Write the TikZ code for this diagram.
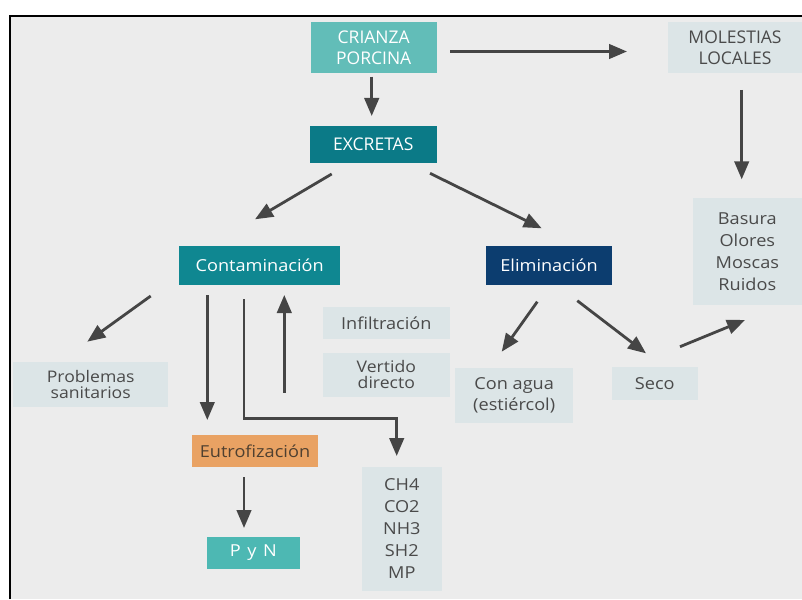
\documentclass[tikz,border=0pt]{standalone}
\usepackage{fontspec}
\setmainfont{Open Sans}[FakeStretch=1.1]
\newfontfamily\capsfont{Open Sans}
\usetikzlibrary{arrows.meta}
\definecolor{bgc}{HTML}{ECECEC}
\definecolor{lightbox}{HTML}{DCE5E7}
\definecolor{greytext}{HTML}{4A4A4A}
\definecolor{tealA}{HTML}{62BDB8}
\definecolor{tealB}{HTML}{0B7A87}
\definecolor{tealC}{HTML}{0F8791}
\definecolor{navy}{HTML}{0C3D6F}
\definecolor{orangeE}{HTML}{E9A263}
\definecolor{orangeT}{HTML}{4F4030}
\definecolor{tealD}{HTML}{4DB8B3}
\definecolor{arrowc}{HTML}{454545}
\begin{document}
\begin{tikzpicture}[x=1pt,y=-1pt,
  box/.style={inner sep=0pt, outer sep=0pt, align=center, font=\fontsize{16.5}{21}\selectfont},
  light/.style={box, fill=lightbox, text=greytext},
  dark/.style={box, text=white},
  capsbox/.style={font=\capsfont\fontsize{17.5}{21}\selectfont},
  arr/.style={draw=arrowc, line width=2.8pt, -{Triangle[length=18pt,width=14.5pt]}},
  ]
\useasboundingbox (0,0) rectangle (802,599);
\fill[white] (0,0) rectangle (802,599);
\fill[bgc] (10,16) rectangle (802,599);
\draw[black, line width=2pt] (10,599) -- (10,15.7) -- (802,15.7);

% nodes
\node[dark, capsbox, fill=tealA, minimum width=126pt, minimum height=51.6pt] (crianza) at (373.7,47.5) {CRIANZA\\PORCINA};
\node[light, capsbox, minimum width=134pt, minimum height=51.6pt] (molestias) at (735,47.5) {MOLESTIAS\\LOCALES};
\node[dark, capsbox, fill=tealB, minimum width=126.7pt, minimum height=36.7pt] (excretas) at (373.3,144.3) {EXCRETAS};
\node[light, minimum width=109.3pt, minimum height=107pt, font=\fontsize{16.5}{22}\selectfont] (basura) at (747.3,251.5) {Basura\\Olores\\Moscas\\Ruidos};
\node[dark, fill=tealC, minimum width=160.7pt, minimum height=39.3pt] (contam) at (259.7,265.3) {Contaminación};
\node[dark, fill=navy, minimum width=126pt, minimum height=39.3pt] (elim) at (549,265.3) {Eliminación};
\node[light, minimum width=155.3pt, minimum height=45pt, font=\fontsize{16}{16}\selectfont] (problemas) at (90.7,384.2) {Problemas\\sanitarios};
\node[light, minimum width=127.3pt, minimum height=32pt] (infil) at (386.3,323) {Infiltración};
\node[light, minimum width=127.3pt, minimum height=44pt, font=\fontsize{16}{15.5}\selectfont] (vertido) at (386.3,374.7) {Vertido\\directo};
\node[light, minimum width=118.3pt, minimum height=55pt, font=\fontsize{16.5}{21}\selectfont] (conagua) at (514.2,395.8) {Con agua\\(estiércol)};
\node[light, minimum width=85.7pt, minimum height=33pt] (seco) at (654.8,383.5) {Seco};
\node[box, fill=orangeE, text=orangeT, minimum width=126.7pt, minimum height=32.3pt] (eutro) at (255,451.2) {Eutrofización};
\node[dark, fill=tealD, minimum width=93.3pt, minimum height=32.6pt] (pyn) at (253.3,553) {{\addfontfeatures{LetterSpace=11}P y N}};
\node[light, minimum width=80.3pt, minimum height=123.3pt, font=\fontsize{16.5}{22}\selectfont] (gases) at (401.8,529) {CH4\\CO2\\NH3\\SH2\\MP};

% connector end points
\coordinate (crianzaR) at (450,51.5);   \coordinate (molestiasL) at (627,51.5);
\coordinate (crianzaB) at (371.7,76.7); \coordinate (excretasT) at (371.7,116);
\coordinate (molestiasB) at (741.7,90); \coordinate (basuraT) at (741.7,179.3);
\coordinate (excretasBL) at (331.7,174); \coordinate (contamT) at (255,219.3);
\coordinate (excretasBR) at (430,173.3); \coordinate (elimT) at (541.7,228.3);
\coordinate (contamBL) at (150.7,296);  \coordinate (problemasT) at (87.3,341.7);
\coordinate (elimBL) at (537.3,301.7);  \coordinate (conaguaT) at (501.7,351.7);
\coordinate (elimBR) at (577.3,300.7);  \coordinate (secoT) at (646,353.3);
\coordinate (secoR) at (680,346.7);     \coordinate (basuraB) at (745,320);
\coordinate (contamB1) at (207.3,295);  \coordinate (eutroT) at (207.3,420);
\coordinate (contamB2) at (244,299.3);  \coordinate (elbow) at (244,418.3); \coordinate (gasesT) at (396.7,456);
\coordinate (vertidoL) at (284.3,392.7); \coordinate (contamB3) at (284.3,295);
\coordinate (eutroB) at (244,477);      \coordinate (pynT) at (244,528);

% connectors
\draw[arr] (crianzaR) -- (molestiasL);
\draw[arr] (crianzaB) -- (excretasT);
\draw[arr] (molestiasB) -- (basuraT);
\draw[arr] (excretasBL) -- (contamT);
\draw[arr] (excretasBR) -- (elimT);
\draw[arr] (contamBL) -- (problemasT);
\draw[arr] (elimBL) -- (conaguaT);
\draw[arr] (elimBR) -- (secoT);
\draw[arr] (secoR) -- (basuraB);
\draw[arr] (contamB1) -- (eutroT);
\draw[arr] (contamB2) -- (elbow) -| (gasesT);
\draw[arr] (vertidoL) -- (contamB3);
\draw[arr] (eutroB) -- (pynT);
\end{tikzpicture}
\end{document}
